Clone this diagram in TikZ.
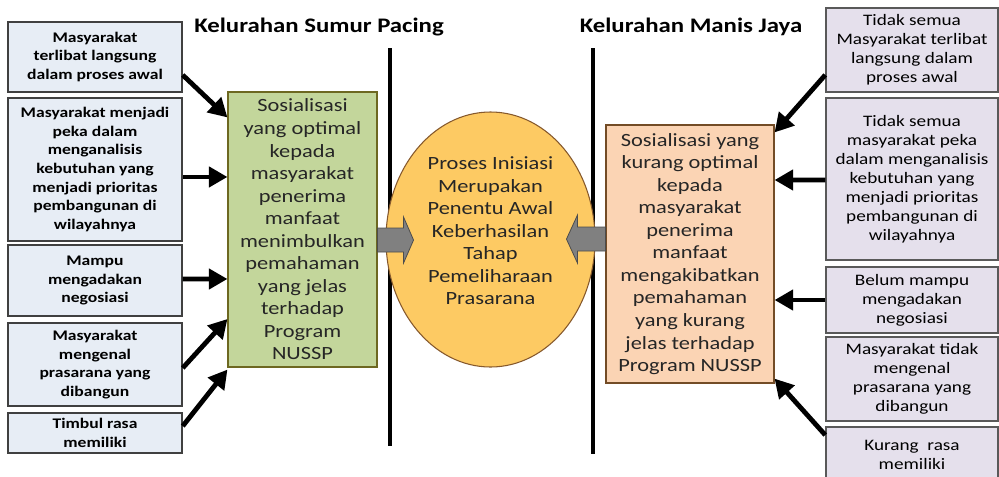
\documentclass[tikz,border=0pt]{standalone}
\usepackage{fontspec}
\setmainfont{Carlito}[FakeStretch=1.2]
\usepackage{tikz}
\usetikzlibrary{arrows.meta}
\usetikzlibrary{shapes,positioning}

\definecolor{boxblue}{HTML}{E7EDF5}
\definecolor{boxlilac}{HTML}{E5E0EC}
\definecolor{boxgreen}{HTML}{C3D69B}
\definecolor{boxorange}{HTML}{FBD4B4}
\definecolor{ovalyellow}{HTML}{FDCA63}

\tikzset{
  leftbox/.style={draw=black!75,line width=1.1pt,fill=boxblue,align=center,
    minimum width=130.5pt,inner sep=0pt,
    font=\fontsize{11}{13.9}\selectfont\bfseries},
  rightbox/.style={draw=black!65,line width=1.1pt,fill=boxlilac,align=center,
    minimum width=129pt,inner sep=0pt,
    font=\fontsize{12}{14.3}\selectfont},
  bigtext/.style={align=center,inner sep=0pt,font=\fontsize{14}{16.9}\selectfont,text=black!85},
  title/.style={font=\fontsize{15.5}{18}\selectfont\bfseries},
  divider/.style={line width=3pt},
  thickarrow/.style={line width=3.6pt,-{Triangle[length=14pt,width=15pt]}},
  blockarrow/.style={fill=black!50,draw=black!70,line width=0.6pt}
}

\begin{document}
\begin{tikzpicture}[x=0.75pt,y=-0.75pt]

  \useasboundingbox (0,0) rectangle (999,476);

  % titles and dividing lines
  \node[title] (titleleft) at (319,27) {Kelurahan Sumur Pacing};
  \node[title] (titleright) at (691,27) {Kelurahan Manis Jaya};

  \draw [divider] (390,48) -- (390,446);
  \draw [divider] (593,48) -- (593,454);

  % left column
  \node[leftbox,minimum height=52.5pt] (l1) at (95,57)
    {Masyarakat\\terlibat langsung\\dalam proses awal};
  \node[leftbox,minimum height=107.25pt] (l2) at (95,169.5)
    {Masyarakat menjadi\\peka dalam\\menganalisis\\kebutuhan yang\\menjadi prioritas\\pembangunan di\\wilayahnya};
  \node[leftbox,minimum height=53.25pt] (l3) at (95,280.5)
    {Mampu\\mengadakan\\negosiasi};
  \node[leftbox,minimum height=62.25pt] (l4) at (95,364.5)
    {Masyarakat\\mengenal\\prasarana yang\\dibangun};
  \node[leftbox,minimum height=30pt] (l5) at (95,433)
    {Timbul rasa\\memiliki};

  \node[bigtext,draw=olive!70!black,line width=0.8pt,fill=boxgreen,
    minimum width=111.75pt,minimum height=206.25pt] (green) at (302.5,229.5)
    {Sosialisasi\\yang optimal\\kepada\\masyarakat\\penerima\\manfaat\\menimbulkan\\pemahaman\\yang jelas\\terhadap\\Program\\NUSSP};

  % middle
  \node[ellipse,draw=brown!70!black,line width=0.8pt,fill=ovalyellow,
    minimum width=156.75pt,minimum height=191.25pt] (oval) at (490.5,239.5) {};
  \node[bigtext] (ovaltext) at ([yshift=6.5pt]oval.center)
    {Proses Inisiasi\\Merupakan\\Penentu Awal\\Keberhasilan\\Tahap\\Pemeliharaan\\Prasarana};

  % right column
  \node[bigtext,draw=brown!60!black,line width=0.8pt,fill=boxorange,
    minimum width=126pt,minimum height=193.5pt] (orange) at (690,254)
    {Sosialisasi yang\\kurang optimal\\kepada\\masyarakat\\penerima\\manfaat\\mengakibatkan\\pemahaman\\yang kurang\\jelas terhadap\\Program NUSSP};

  \node[rightbox,minimum height=63pt] (r1) at (912,50)
    {Tidak semua\\Masyarakat terlibat\\langsung dalam\\proses awal};
  \node[rightbox,minimum height=121.5pt] (r2) at (912,179)
    {Tidak semua\\masyarakat peka\\dalam menganalisis\\kebutuhan yang\\menjadi prioritas\\pembangunan di\\wilayahnya};
  \node[rightbox,minimum height=49.5pt] (r3) at (912,300)
    {Belum mampu\\mengadakan\\negosiasi};
  \node[rightbox,minimum height=63pt] (r4) at (912,379)
    {Masyarakat tidak\\mengenal\\prasarana yang\\dibangun};
  \node[rightbox,minimum height=41.25pt] (r5) at (912,454.5)
    {Kurang~~rasa\\memiliki};

  % arrows
  \draw [thickarrow] ([yshift=-13.5pt]l1.east) -- ([yshift=-19.5pt]green.north west);
  \draw [thickarrow] ([yshift=-5.6pt]l2.east) -- ([yshift=39.4pt]green.west);
  \draw [thickarrow] ([yshift=1.1pt]l3.east) -- ([yshift=-37.1pt]green.west);
  \draw [thickarrow] ([yshift=-2.6pt]l4.east) -- ([yshift=-67.1pt]green.west);
  \draw [thickarrow] ([yshift=5.2pt]l5.east) -- ([yshift=-1.5pt]green.south west);

  \draw [thickarrow] ([yshift=-18.7pt]r1.west) -- ([yshift=-6pt]orange.north east);
  \draw [thickarrow] ([yshift=-0.7pt]r2.west) -- ([yshift=55.5pt]orange.east);
  \draw [thickarrow] (r3.west) -- ([yshift=-34.5pt]orange.east);
  \draw [thickarrow] ([yshift=14.6pt]r5.west) -- ([yshift=3.7pt]orange.south east);

  \draw [blockarrow] ([yshift=1.1pt]green.east) -- ++(26,0) -- ++(0,-11) -- ++(10,23)
    -- ++(-10,23) -- ++(0,-11) -- ++(-26,0) -- cycle;
  \draw [blockarrow] ([yshift=20.2pt]orange.west) -- ++(-28,0) -- ++(0,-12) -- ++(-11,24)
    -- ++(11,24) -- ++(0,-12) -- ++(28,0) -- cycle;

\end{tikzpicture}
\end{document}
